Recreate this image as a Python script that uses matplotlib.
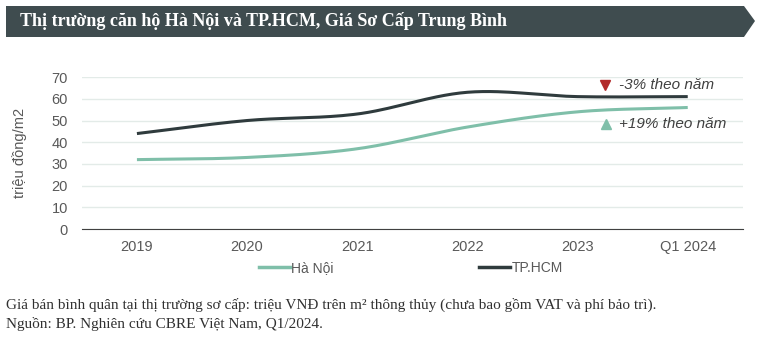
import numpy as np
import matplotlib
matplotlib.use("Agg")
import matplotlib.pyplot as plt
from matplotlib.patches import Polygon
from matplotlib.lines import Line2D

CATEGORIES = ["2019", "2020", "2021", "2022", "2023", "Q1 2024"]
HA_NOI = [32, 33, 37, 47, 54, 56]
TP_HCM = [44, 50, 53, 63, 61, 61]

DARK = "#3f4c4f"
TEAL = "#7fbfa9"
HCM_COL = "#2f3b3d"
GRID = "#e3ebe8"
TEXT = "#595959"

plt.rcParams["font.family"] = ["Liberation Sans", "DejaVu Sans"]


def smooth(x, y, n=30):
    # Catmull-Rom curve through the points, like Excel's smoothed line
    x = np.asarray(x, float)
    y = np.asarray(y, float)
    px = np.concatenate([[2 * x[0] - x[1]], x, [2 * x[-1] - x[-2]]])
    py = np.concatenate([[2 * y[0] - y[1]], y, [2 * y[-1] - y[-2]]])
    xs, ys = [], []
    t = np.linspace(0, 1, n)
    for i in range(1, len(px) - 2):
        for p, out in ((px, xs), (py, ys)):
            p0, p1, p2, p3 = p[i - 1], p[i], p[i + 1], p[i + 2]
            out.extend(0.5 * (2 * p1 + (-p0 + p2) * t
                              + (2 * p0 - 5 * p1 + 4 * p2 - p3) * t ** 2
                              + (-p0 + 3 * p1 - 3 * p2 + p3) * t ** 3))
    return np.array(xs), np.array(ys)


fig = plt.figure(figsize=(7.65, 3.41), dpi=100)

# header banner with arrow tip
hdr = fig.add_axes([0, 0, 1, 1], zorder=-1)
hdr.set_xlim(0, 765)
hdr.set_ylim(341, 0)
hdr.axis("off")
hdr.add_patch(Polygon([(6, 6), (744, 6), (755, 21), (744, 37), (6, 37)],
                      closed=True, facecolor=DARK, edgecolor="none"))
hdr.text(20, 21, "Thị trường căn hộ Hà Nội và TP.HCM, Giá Sơ Cấp Trung Bình",
         color="white", fontsize=13, fontweight="bold",
         family="Liberation Serif", va="center", ha="left")

ax = fig.add_axes([0.107, 0.328, 0.864, 0.446])
x = np.arange(len(CATEGORIES))
hx, hy = smooth(x, HA_NOI)
cx, cy = smooth(x, TP_HCM)
ax.plot(hx, hy, color=TEAL, lw=2.2, solid_capstyle="butt", zorder=3)
ax.plot(cx, cy, color=HCM_COL, lw=2.2, solid_capstyle="butt", zorder=3)

ax.set_xlim(-0.5, len(CATEGORIES) - 0.5)
ax.set_ylim(0, 70)
ax.set_yticks(range(0, 71, 10))
ax.set_xticks(x)
ax.set_xticklabels(CATEGORIES)
ax.yaxis.grid(True, color=GRID, lw=1)
ax.set_axisbelow(True)
for s in ["top", "right", "left"]:
    ax.spines[s].set_visible(False)
ax.spines["bottom"].set_color("#404040")
ax.tick_params(length=0, colors=TEXT, labelsize=10.5)
ax.tick_params(axis="x", pad=8)
ax.tick_params(axis="y", pad=10)
ax.set_ylabel("triệu đồng/m2", color=TEXT, fontsize=10.5, labelpad=18)

# year-on-year change labels
ax.plot(4.25, 66.5, marker="v", color="#b22a2a", ms=7, ls="none", clip_on=False)
ax.text(4.38, 66.5, "-3% theo năm", style="italic", color="#404040",
        fontsize=11, va="center")
ax.plot(4.26, 48.5, marker="^", color=TEAL, ms=7, ls="none", clip_on=False)
ax.text(4.38, 48.5, "+19% theo năm", style="italic", color="#404040",
        fontsize=11, va="center")

handles = [Line2D([], [], color=TEAL, lw=2.5, label="Hà Nội"),
           Line2D([], [], color=HCM_COL, lw=2.5, label="TP.HCM")]
fig.legend(handles=handles, loc="center", bbox_to_anchor=(0.537, 0.215),
           ncol=2, frameon=False, fontsize=10, handlelength=2.2,
           handletextpad=0.1, columnspacing=10.5, labelcolor=TEXT)

fig.text(0.008, 0.105, "Giá bán bình quân tại thị trường sơ cấp: triệu VNĐ trên m² "
         "thông thủy (chưa bao gồm VAT và phí bảo trì).",
         family="Liberation Serif", fontsize=11, color="#303030", va="center")
fig.text(0.008, 0.05, "Nguồn: BP. Nghiên cứu CBRE Việt Nam, Q1/2024.",
         family="Liberation Serif", fontsize=11, color="#303030", va="center")

fig.savefig("out.png", dpi=100)
